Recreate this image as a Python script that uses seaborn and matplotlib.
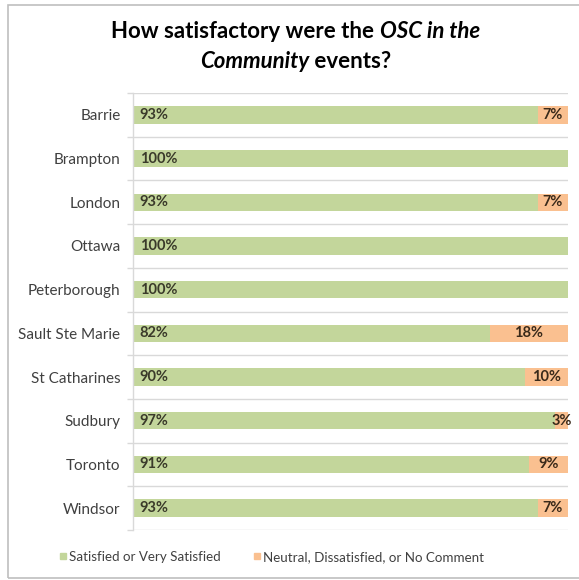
import matplotlib
matplotlib.use("Agg")
import matplotlib.pyplot as plt
import seaborn as sns
import pandas as pd
import numpy as np
from matplotlib.patches import Rectangle
from matplotlib.lines import Line2D

cities = ["Barrie", "Brampton", "London", "Ottawa", "Peterborough",
          "Sault Ste Marie", "St Catharines", "Sudbury", "Toronto", "Windsor"]
satisfied = [93, 100, 93, 100, 100, 82, 90, 97, 91, 93]
neutral = [7, 0, 7, 0, 0, 18, 10, 3, 9, 7]
series_names = ["Satisfied or Very Satisfied", "Neutral, Dissatisfied, or No Comment"]

GREEN = "#C3D69B"
ORANGE = "#FAC090"

sns.set_style("white")
plt.rcParams['font.family'] = ['Lato', 'DejaVu Sans']

df = pd.DataFrame({"city": cities, "sat": satisfied, "neu": neutral})
df["total"] = df["sat"] + df["neu"]

fig = plt.figure(figsize=(5.79, 5.80), dpi=100)
ax = fig.add_axes([133/579, 1-530/580, 435/579, 437/580])

sns.barplot(data=df, y="city", x="total", orient="h", color=ORANGE,
            width=0.4, ax=ax, saturation=1, edgecolor="none")
sns.barplot(data=df, y="city", x="sat", orient="h", color=GREEN,
            width=0.4, ax=ax, saturation=1, edgecolor="none")

ax.set_xlim(0, 100)
ax.set_ylim(len(cities)-0.5, -0.5)
ax.set_xlabel("")
ax.set_ylabel("")
ax.set_xticks([])
for s in ["top", "right", "bottom"]:
    ax.spines[s].set_visible(False)
ax.spines["left"].set_color("#d9d9d9")
ax.spines["left"].set_linewidth(1)

ax.set_yticks(np.arange(-0.5, len(cities), 1), minor=True)
ax.grid(True, which="minor", axis="y", color="#d9d9d9", linewidth=1)
ax.tick_params(axis="y", which="minor", length=4, color="#d9d9d9", width=1, left=True)
ax.tick_params(axis="y", which="major", length=0, pad=9, labelsize=11, labelcolor="#404040")

for i, (s, n) in enumerate(zip(satisfied, neutral)):
    ax.text(1.5, i, f"{s}%", va="center", ha="left", fontsize=10.5,
            fontweight="bold", color="#3a3a2a")
    if n > 0:
        ax.text(s + n/2, i, f"{n}%", va="center", ha="center", fontsize=10.5,
                fontweight="bold", color="#3a2a1a")


def draw_mixed(y, parts, size=16):
    renderer = fig.canvas.get_renderer()
    texts, widths = [], []
    for s, style in parts:
        t = fig.text(0, y, s, fontsize=size, fontweight="bold", fontstyle=style,
                     va="center", ha="left", color="black")
        bb = t.get_window_extent(renderer=renderer)
        texts.append(t)
        widths.append(bb.width)
    total = sum(widths)
    x = (fig.bbox.width - total) / 2 + 6
    for t, w in zip(texts, widths):
        t.set_x(x / fig.bbox.width)
        x += w


draw_mixed(1-32/580, [("How satisfactory were the ", "normal"), ("OSC in the", "italic")])
draw_mixed(1-61/580, [("Community", "italic"), (" events?", "normal")])

handles = [Line2D([0], [0], marker="s", linestyle="none", markersize=5,
                  markerfacecolor=c, markeredgecolor=c) for c in (GREEN, ORANGE)]
fig.legend(handles, series_names, loc="center", bbox_to_anchor=(0.468, 1-557/580),
           ncol=2, frameon=False, fontsize=9.6, handletextpad=0.05, columnspacing=2.3,
           handlelength=0.8, labelcolor="#404040")

fig.add_artist(Rectangle((8/579, 2/580), 1.0, 573/580, transform=fig.transFigure,
                         fill=False, edgecolor="#bfbfbf", linewidth=1.2))

fig.savefig("out.png", dpi=100)
